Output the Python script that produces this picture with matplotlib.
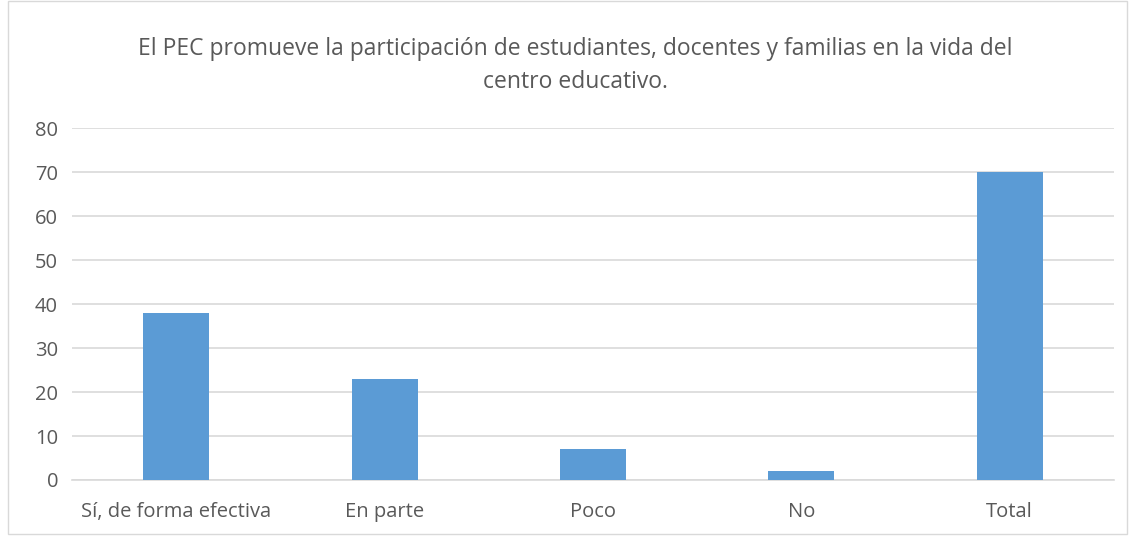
import numpy as np
import matplotlib.pyplot as plt
from matplotlib.patches import Rectangle

categories = ['Sí, de forma efectiva', 'En parte', 'Poco', 'No', 'Total']
values = [38, 23, 7, 2, 70]
yticks = [0, 10, 20, 30, 40, 50, 60, 70, 80]

plt.rcParams['font.family'] = ['Open Sans', 'DejaVu Sans']

fig = plt.figure(figsize=(11.32, 5.36), dpi=100)
ax = fig.add_axes([0.0636, 0.1045, 0.9204, 0.6565])

x = np.arange(len(categories))
ax.bar(x, values, width=0.317, color='#5b9bd5', zorder=3)

ax.set_xlim(-0.5, len(categories) - 0.5)
ax.set_ylim(0, 80)
ax.set_yticks(yticks)
ax.set_xticks(x)
ax.set_xticklabels(categories)
ax.tick_params(axis='both', length=0, labelsize=14.5, colors='#595959')
ax.tick_params(axis='x', pad=16)
ax.tick_params(axis='y', pad=10)
ax.grid(axis='y', color='#d9d9d9', linewidth=1.2, zorder=0)
for side in ['top', 'right', 'left']:
    ax.spines[side].set_visible(False)
ax.spines['bottom'].set_color('#d9d9d9')
ax.spines['bottom'].set_linewidth(1.2)

fig.text(0.508, 0.877, 'El PEC promueve la participación de estudiantes, docentes y familias en la vida del\ncentro educativo.',
         ha='center', va='center', fontsize=16.5, color='#595959', linespacing=1.5)

fig.patches.append(Rectangle((0.007, 0.004), 0.989, 0.994, transform=fig.transFigure,
                             fill=False, edgecolor='#d9d9d9', linewidth=1))

plt.savefig('out.png', dpi=100)
